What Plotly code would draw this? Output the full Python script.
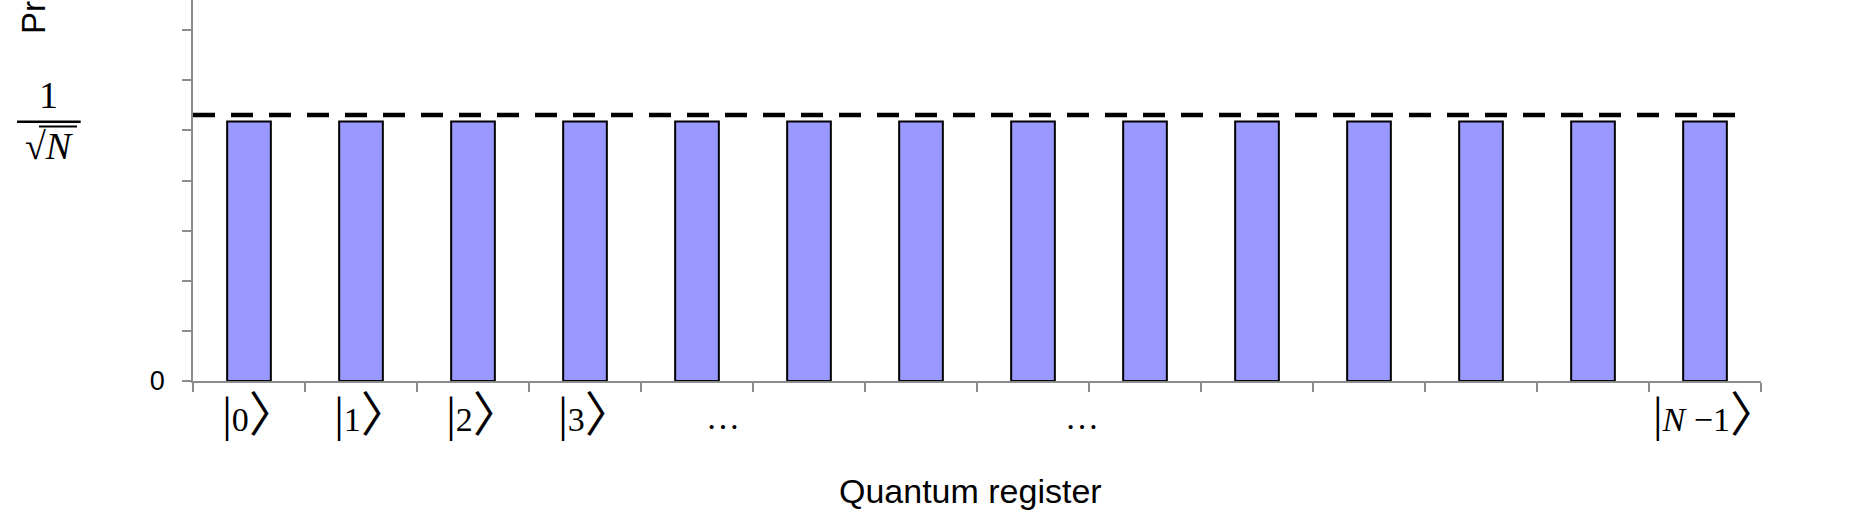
import plotly.graph_objects as go

# ---- data ----
states = list(range(14))
amplitudes = [0.259] * 14
tick_labels = ["|0⟩", "|1⟩", "|2⟩", "|3⟩", "", "", "", "", "", "", "", "", "", "|<i>N</i> −1⟩"]
ellipsis_x = [4.23, 7.44]
ellipsis_text = ["…", "…"]
ref_x = [-0.5, 13.3]
ref_y = [0.2655, 0.2655]
y_ticks = [0, 0.05, 0.10, 0.15, 0.20, 0.25, 0.30, 0.35]
y_ticktext = ["0", "", "", "", "", "", "", ""]
boundaries = [i - 0.5 for i in range(15)]

# ---- geometry ----
W, H = 1863, 524
L, R, T, B = 193, 102, 0, 143
PW, PH = W - L - R, H - T - B


def px_x(p):
    return (p - L) / PW


def px_y(p):
    return (H - B - p) / PH


def ket(s):
    if not s:
        return s
    pad = "<span style='font-size:21px'>\u2003</span>"
    bar = "<span style='font-size:48px'>|</span>"
    ang = "<span style='font-family:\"Noto Sans CJK JP\";font-size:48px'>〉</span>"
    return pad + s.replace("|", bar).replace("⟩", ang)


serif = "Liberation Serif, DejaVu Serif, serif"
sans = "Liberation Sans, Arial, sans-serif"

fig = go.Figure()
fig.add_trace(go.Bar(
    x=states, y=amplitudes, width=0.39,
    marker=dict(color="#9999FF", line=dict(color="black", width=2)),
    showlegend=False,
))
fig.add_trace(go.Scatter(
    x=ref_x, y=ref_y, mode="lines",
    line=dict(color="black", width=4.5, dash="22px,16px"),
    showlegend=False,
))

annotations = [
    dict(text="Quantum register", xref="paper", yref="paper",
         x=px_x(970), y=px_y(491), xanchor="center", yanchor="middle",
         showarrow=False, font=dict(family=sans, size=34, color="black")),
    dict(text="Probability amplitude", xref="paper", yref="paper",
         x=px_x(33), y=px_y(36), xanchor="center", yanchor="bottom",
         textangle=-90, showarrow=False,
         font=dict(family=sans, size=33, color="black")),
    dict(text="1", xref="paper", yref="paper",
         x=px_x(48.5), y=px_y(95), xanchor="center", yanchor="middle",
         showarrow=False, font=dict(family=serif, size=38, color="black")),
    dict(text="√<i>N</i>", xref="paper", yref="paper",
         x=px_x(49), y=px_y(146), xanchor="center", yanchor="middle",
         showarrow=False, font=dict(family=serif, size=38, color="black")),
]
for ex, et in zip(ellipsis_x, ellipsis_text):
    annotations.append(dict(text=et, xref="x", yref="paper", x=ex, y=px_y(417),
                            xanchor="center", yanchor="middle", showarrow=False,
                            font=dict(family=serif, size=34, color="black")))

fig.update_layout(
    width=W, height=H,
    margin=dict(l=L, r=R, t=T, b=B, autoexpand=False),
    paper_bgcolor="white", plot_bgcolor="white",
    xaxis=dict(
        range=[-0.5, 13.5], showgrid=False, zeroline=False, automargin=False,
        showline=True, linecolor="#8c8c8c", linewidth=1.5,
        tickmode="array", tickvals=states, ticktext=[ket(t) for t in tick_labels],
        ticks="", tickfont=dict(family=serif, size=34, color="black"),
        ticklabelstandoff=7,
        minor=dict(tickmode="array", tickvals=boundaries, ticks="outside",
                   ticklen=9, tickcolor="#8c8c8c", tickwidth=1.5),
    ),
    yaxis=dict(
        range=[0, 0.3802], showgrid=False, zeroline=False, automargin=False,
        showline=True, linecolor="#8c8c8c", linewidth=1.5,
        tickmode="array", tickvals=y_ticks, ticktext=y_ticktext,
        ticks="outside", ticklen=9, tickcolor="#8c8c8c", tickwidth=1.5,
        tickfont=dict(family=sans, size=27, color="black"),
        ticklabelstandoff=12,
    ),
    annotations=annotations,
    shapes=[
        dict(type="line", xref="paper", yref="paper",
             x0=px_x(17), x1=px_x(80.7), y0=px_y(121.7), y1=px_y(121.7),
             line=dict(color="black", width=2.5)),
        dict(type="line", xref="paper", yref="paper",
             x0=px_x(39), x1=px_x(77), y0=px_y(126.5), y1=px_y(126.5),
             line=dict(color="black", width=1.8)),
    ],
)

fig.write_html(
    "out.html",
    config={"displayModeBar": False},
    post_script="document.documentElement.style.margin='0';"
                "document.body.style.margin='0';document.body.style.overflow='hidden';",
)
